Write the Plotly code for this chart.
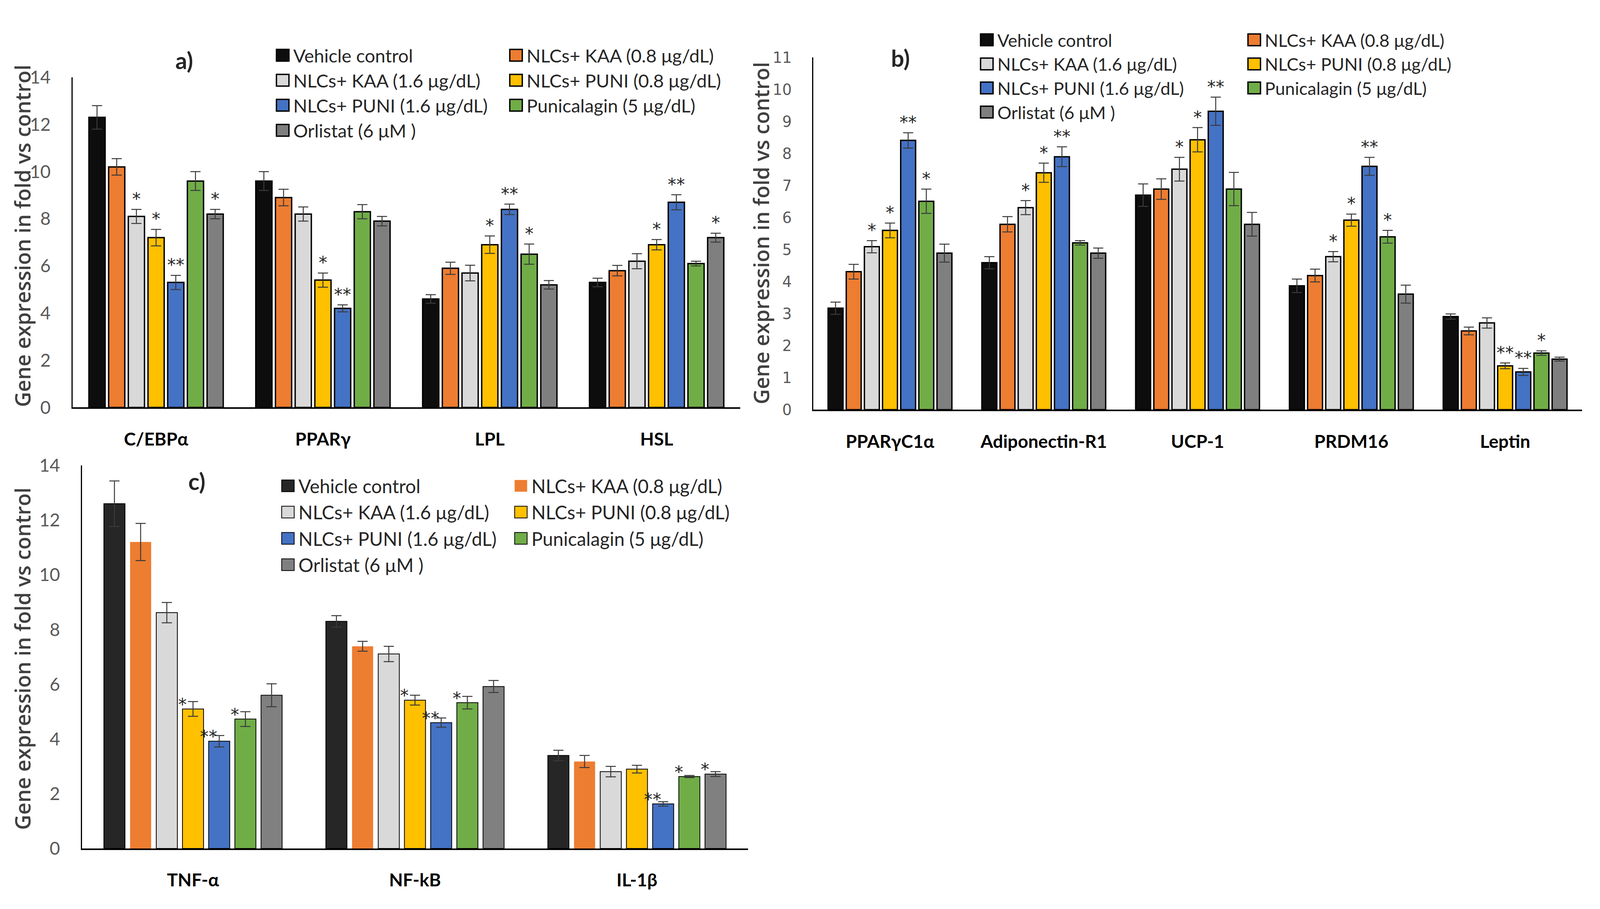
import plotly.graph_objects as go

# ---------------- data ----------------
series_names = ["Vehicle control", "NLCs+ KAA (0.8 μg/dL)", "NLCs+ KAA (1.6 μg/dL)",
                "NLCs+ PUNI (0.8 μg/dL)", "NLCs+ PUNI (1.6 μg/dL)", "Punicalagin (5 μg/dL)",
                "Orlistat (6 μM )"]

# panel a
a_categories = ["C/EBPα", "PPARγ", "LPL", "HSL"]
a_vehicle = [12.3, 9.6, 4.6, 5.3]
a_kaa08 = [10.2, 8.9, 5.9, 5.8]
a_kaa16 = [8.1, 8.2, 5.7, 6.2]
a_puni08 = [7.2, 5.4, 6.9, 6.9]
a_puni16 = [5.3, 4.2, 8.4, 8.7]
a_punic = [9.6, 8.3, 6.5, 6.1]
a_orli = [8.2, 7.9, 5.2, 7.2]
a_vehicle_err = [0.5, 0.4, 0.18, 0.18]
a_kaa08_err = [0.35, 0.35, 0.26, 0.22]
a_kaa16_err = [0.3, 0.3, 0.33, 0.32]
a_puni08_err = [0.35, 0.3, 0.37, 0.22]
a_puni16_err = [0.3, 0.15, 0.22, 0.32]
a_punic_err = [0.4, 0.3, 0.43, 0.1]
a_orli_err = [0.2, 0.2, 0.18, 0.19]
a_vehicle_sig = ["", "", "", ""]
a_kaa08_sig = ["", "", "", ""]
a_kaa16_sig = ["*", "", "", ""]
a_puni08_sig = ["*", "*", "*", "*"]
a_puni16_sig = ["**", "**", "**", "**"]
a_punic_sig = ["", "", "*", ""]
a_orli_sig = ["*", "", "", "*"]

# panel b
b_categories = ["PPARγC1α", "Adiponectin-R1", "UCP-1", "PRDM16", "Leptin"]
b_vehicle = [3.17, 4.59, 6.7, 3.87, 2.91]
b_kaa08 = [4.31, 5.79, 6.89, 4.19, 2.46]
b_kaa16 = [5.09, 6.31, 7.51, 4.78, 2.71]
b_puni08 = [5.6, 7.4, 8.43, 5.92, 1.37]
b_puni16 = [8.41, 7.9, 9.32, 7.6, 1.18]
b_punic = [6.51, 5.21, 6.89, 5.4, 1.77]
b_orli = [4.89, 4.89, 5.79, 3.61, 1.58]
b_vehicle_err = [0.19, 0.19, 0.35, 0.21, 0.08]
b_kaa08_err = [0.23, 0.24, 0.32, 0.2, 0.12]
b_kaa16_err = [0.19, 0.22, 0.37, 0.16, 0.16]
b_puni08_err = [0.23, 0.3, 0.38, 0.19, 0.09]
b_puni16_err = [0.24, 0.31, 0.44, 0.28, 0.11]
b_punic_err = [0.38, 0.07, 0.52, 0.2, 0.07]
b_orli_err = [0.28, 0.16, 0.37, 0.28, 0.06]
b_vehicle_sig = ["", "", "", "", ""]
b_kaa08_sig = ["", "", "", "", ""]
b_kaa16_sig = ["*", "*", "*", "*", ""]
b_puni08_sig = ["*", "*", "*", "*", "**"]
b_puni16_sig = ["**", "**", "**", "**", "**"]
b_punic_sig = ["*", "", "", "*", "*"]
b_orli_sig = ["", "", "", "", ""]

# panel c
c_categories = ["TNF-α", "NF-kB", "IL-1β"]
c_vehicle = [12.6, 8.3, 3.4]
c_kaa08 = [11.2, 7.39, 3.18]
c_kaa16 = [8.62, 7.11, 2.81]
c_puni08 = [5.1, 5.42, 2.9]
c_puni16 = [3.92, 4.6, 1.63]
c_punic = [4.73, 5.33, 2.63]
c_orli = [5.6, 5.92, 2.72]
c_vehicle_err = [0.83, 0.21, 0.19]
c_kaa08_err = [0.68, 0.18, 0.22]
c_kaa16_err = [0.37, 0.28, 0.19]
c_puni08_err = [0.27, 0.18, 0.14]
c_puni16_err = [0.21, 0.17, 0.08]
c_punic_err = [0.27, 0.23, 0.04]
c_orli_err = [0.42, 0.22, 0.09]
c_vehicle_sig = ["", "", ""]
c_kaa08_sig = ["", "", ""]
c_kaa16_sig = ["", "", ""]
c_puni08_sig = ["*", "*", ""]
c_puni16_sig = ["**", "**", "**"]
c_punic_sig = ["*", "*", "*"]
c_orli_sig = ["", "", "*"]

# ---------------- styling ----------------
colors_ab = ["#0D0D0D", "#ED7D31", "#D9D9D9", "#FFC000", "#4472C4", "#70AD47", "#7F7F7F"]
colors_c = ["#262626", "#ED7D31", "#D9D9D9", "#FFC000", "#4472C4", "#70AD47", "#808080"]
FONT = "Lato"
TXT = "#404040"
LEGTXT = "#262626"
W, H = 4272, 2328      # reference picture size, used to express positions as fractions
K = 1.043              # picture pixels per CSS pixel observed in the renderer


def fx(px):
    return px / W


def fy(py):
    return 1 - py / H


def fs(px):
    return round(px / K, 1)


panels = [
    dict(key="a", cats=a_categories,
         vals=[a_vehicle, a_kaa08, a_kaa16, a_puni08, a_puni16, a_punic, a_orli],
         errs=[a_vehicle_err, a_kaa08_err, a_kaa16_err, a_puni08_err, a_puni16_err, a_punic_err, a_orli_err],
         sigs=[a_vehicle_sig, a_kaa08_sig, a_kaa16_sig, a_puni08_sig, a_puni16_sig, a_punic_sig, a_orli_sig],
         colors=colors_ab, line_w=[3.5] * 7, ax="", xdom=(194, 1976), ybot=1039, ytop=173, ymax=14, dtick=2,
         tickfam=FONT, ticksize=48,
         legends=("legend", "legend2"), ltext=(784, 1407), lrow1=121, lfont=49, gap=0, bw=0.097, sigmode="top",
         title_xy=(60, 589), letter="a)", letter_xy=(492, 128)),
    dict(key="b", cats=b_categories,
         vals=[b_vehicle, b_kaa08, b_kaa16, b_puni08, b_puni16, b_punic, b_orli],
         errs=[b_vehicle_err, b_kaa08_err, b_kaa16_err, b_puni08_err, b_puni16_err, b_punic_err, b_orli_err],
         sigs=[b_vehicle_sig, b_kaa08_sig, b_kaa16_sig, b_puni08_sig, b_puni16_sig, b_punic_sig, b_orli_sig],
         colors=colors_ab, line_w=[3.5] * 7, ax="2", xdom=(2171, 4224), ybot=1045, ytop=121, ymax=11, dtick=1,
         tickfam="DejaVu Sans", ticksize=40,
         legends=("legend3", "legend4"), ltext=(2664, 3378), lrow1=82, lfont=47, gap=0, bw=0.097, sigmode="top",
         title_xy=(2032, 582), letter="b)", letter_xy=(2404, 122)),
    dict(key="c", cats=c_categories,
         vals=[c_vehicle, c_kaa08, c_kaa16, c_puni08, c_puni16, c_punic, c_orli],
         errs=[c_vehicle_err, c_kaa08_err, c_kaa16_err, c_puni08_err, c_puni16_err, c_punic_err, c_orli_err],
         sigs=[c_vehicle_sig, c_kaa08_sig, c_kaa16_sig, c_puni08_sig, c_puni16_sig, c_punic_sig, c_orli_sig],
         colors=colors_c, line_w=[2, 0, 2, 2, 2, 2, 2], ax="3", xdom=(219, 1997), ybot=2196, ytop=1191, ymax=14,
         dtick=2, tickfam=FONT, ticksize=48,
         legends=("legend5", "legend6"), ltext=(798, 1420), lrow1=1250, lfont=50, gap=2, bw=0.095, sigmode="left",
         title_xy=(60, 1698), letter="c)", letter_xy=(526, 1232)),
]

SLOT = 0.118
fig = go.Figure()
layout = dict(margin=dict(l=0, r=0, t=0, b=0), paper_bgcolor="white", autosize=True,
              plot_bgcolor="rgba(0,0,0,0)", barmode="overlay", showlegend=True, hovermode=False,
              font=dict(family=FONT, color=TXT, size=fs(48)))
annotations = []

for p in panels:
    n = len(p["cats"])
    xa = "x" + p["ax"]
    ya = "y" + p["ax"]
    for j, name in enumerate(series_names):
        xs = [i + (j - 3) * SLOT for i in range(n)]
        leg = p["legends"][0] if j % 2 == 0 else p["legends"][1]
        fig.add_trace(go.Bar(
            x=xs, y=p["vals"][j], width=p["bw"], name=name, xaxis=xa, yaxis=ya,
            legend=leg, legendgroup=p["key"] + str(j),
            marker=dict(color=p["colors"][j], line=dict(color="#000000", width=p["line_w"][j])),
            error_y=dict(type="data", array=p["errs"][j], color="#3A3A3A", thickness=2.5, width=13),
        ))
        if p["sigmode"] == "top":
            sx = xs
            sy = [v + e for v, e in zip(p["vals"][j], p["errs"][j])]
            tpos = "top center"
        else:
            sx = [x - p["bw"] / 2 for x in xs]
            sy = [v + 0.1 for v in p["vals"][j]]
            tpos = "middle center"
        fig.add_trace(go.Scatter(
            x=sx, y=sy, text=p["sigs"][j], mode="text", textposition=tpos,
            textfont=dict(family="DejaVu Sans", size=fs(46), color="#262626"),
            xaxis=xa, yaxis=ya, showlegend=False, cliponaxis=False,
        ))
    axn = p["ax"]
    x0, x1 = p["xdom"]
    layout["xaxis" + axn] = dict(
        domain=[fx(x0), fx(x1)], range=[-0.5, n - 0.5], anchor=ya,
        showline=True, linecolor="#000000", linewidth=4, ticks="", showgrid=False, zeroline=False,
        tickmode="array", tickvals=list(range(n)), ticktext=p["cats"],
        tickfont=dict(family=FONT, size=fs(48), color="#000000", weight="bold"), ticklabelstandoff=38,
    )
    layout["yaxis" + axn] = dict(
        domain=[fy(p["ybot"]), fy(p["ytop"])], range=[0, p["ymax"]], anchor=xa,
        showline=True, linecolor="#000000", linewidth=3, ticks="", showgrid=False, zeroline=False,
        dtick=p["dtick"], tick0=0, tickfont=dict(family=p["tickfam"], size=fs(p["ticksize"]), color="#595959"),
        ticklabelstandoff=44,
    )
    for k, leg in enumerate(p["legends"]):
        layout[leg] = dict(
            x=fx(p["ltext"][k] - 51 * K), y=fy(p["lrow1"] - 42 * K), xanchor="left", yanchor="top",
            orientation="v", bgcolor="rgba(0,0,0,0)", tracegroupgap=p["gap"], itemwidth=40,
            font=dict(family=FONT, size=fs(p["lfont"]), color=LEGTXT), itemclick=False, itemdoubleclick=False,
        )
    tx, ty = p["title_xy"]
    annotations.append(dict(
        text="Gene expression in fold vs control", x=fx(tx), y=fy(ty), xref="paper", yref="paper",
        textangle=-90, showarrow=False, xanchor="center", yanchor="middle",
        font=dict(family="Open Sans", size=fs(56), color=TXT, weight=600),
    ))
    lx_, ly_ = p["letter_xy"]
    annotations.append(dict(
        text=p["letter"], x=fx(lx_), y=fy(ly_), xref="paper", yref="paper", showarrow=False,
        xanchor="center", yanchor="middle", font=dict(family=FONT, size=fs(62), color="#262626", weight="bold"),
    ))

layout["annotations"] = annotations
fig.update_layout(**layout)

# page without body margin so the figure fills the window; larger legend swatches like the reference
post = """
document.documentElement.style.margin='0';
document.body.style.margin='0';
document.body.style.overflow='hidden';
var gd = document.getElementById('{plot_id}');
gd.querySelectorAll('g.legendpoints path').forEach(function(el){
  el.setAttribute('d','M14,15H-18V-15H14Z');
});
"""
fig.write_html("out.html", default_width="100vw", default_height="100vh", post_script=post,
               config={"displayModeBar": False, "staticPlot": True})
